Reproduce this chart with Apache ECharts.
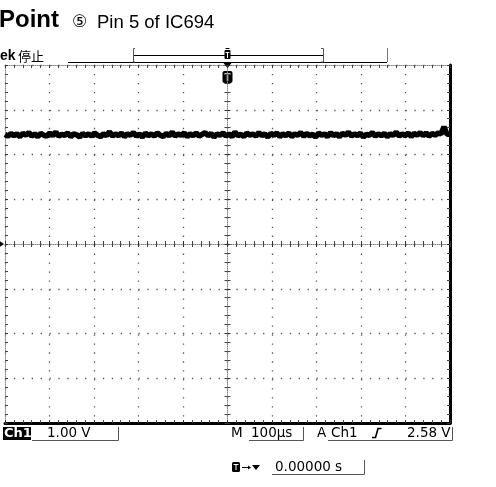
<!DOCTYPE html>
<html><head><meta charset="utf-8">
<script src="https://cdn.jsdelivr.net/npm/echarts@6/dist/echarts.min.js"></script>
<style>html,body{margin:0;padding:0;background:#fff;}#c{width:496px;height:487px;}</style>
</head><body><div id="c"></div>
<script>
// Time axis: -500 .. 500 µs (100 µs/div), voltage axis: -4 .. 4 V (1 V/div)
var timeRange = [-500, 500];
var voltRange = [-4, 4];
var timeDiv = 100;
var voltDiv = 1;
// Ch1 trace values (V): flat ~2.44 V with noise, small spike at the right end
var ch1Values = [
2.45,2.41,2.47,2.42,2.46,2.40,2.47,2.43,2.49,2.41,
2.46,2.40,2.47,2.43,2.41,2.48,2.42,2.50,2.41,2.45,
2.43,2.48,2.40,2.46,2.44,2.39,2.47,2.42,2.46,2.41,
2.48,2.43,2.40,2.46,2.42,2.51,2.41,2.46,2.42,2.48,
2.40,2.46,2.43,2.49,2.41,2.46,2.39,2.48,2.42,2.46,
2.41,2.48,2.43,2.40,2.47,2.42,2.50,2.41,2.46,2.43,
2.48,2.40,2.46,2.42,2.48,2.41,2.45,2.49,2.42,2.47,
2.39,2.46,2.43,2.48,2.41,2.46,2.40,2.50,2.42,2.45,
2.40,2.48,2.43,2.46,2.41,2.49,2.42,2.46,2.39,2.47,
2.43,2.48,2.40,2.46,2.42,2.48,2.40,2.46,2.43,2.49,
2.41,2.47,2.42,2.45,2.39,2.48,2.43,2.46,2.40,2.49,
2.42,2.46,2.40,2.47,2.43,2.50,2.41,2.46,2.42,2.48,
2.39,2.45,2.43,2.49,2.41,2.46,2.42,2.47,2.40,2.46,
2.43,2.50,2.41,2.46,2.42,2.48,2.40,2.47,2.43,2.49,
2.42,2.48,2.41,2.47,2.43,2.48,2.46,2.62,2.45,2.45
];
var groundLevel = 0;
var triggerTime = 0;
var titleBold = 'Point';
var titleMark = '⑤';
var titleRest = 'Pin 5 of IC694';
var statusLeft = 'ek';
var statusCJK = '停止';
var ch1Label = 'Ch1';
var voltsPerDiv = '1.00 V';
var timePerDiv = '100µs';
var trigSource = 'Ch1';
var trigLevel = '2.58 V';
var trigDelay = '0.00000 s';

var step = (timeRange[1] - timeRange[0]) / (ch1Values.length - 1);
var seriesData = ch1Values.map(function (v, i) { return [timeRange[0] + i * step, v]; });

var G = {left: 5, top: 65, width: 445, height: 358};
var chart = echarts.init(document.getElementById('c'), null, {renderer: 'canvas'});

function xAx(grid, pos, line, tick, split, onZero) {
  return {
    gridIndex: grid, type: 'value', min: timeRange[0], max: timeRange[1], interval: timeDiv,
    position: pos,
    axisLine: {show: !!line, onZero: !!onZero, lineStyle: line || {}},
    axisTick: tick ? {show: true, inside: tick.inside, length: 3, lineStyle: {color: '#333', width: 1}} : {show: false},
    minorTick: tick ? {show: true, splitNumber: 5, length: 3, lineStyle: {color: '#444', width: 1}} : {show: false},
    axisLabel: {show: false},
    splitLine: split ? {show: true, lineStyle: {color: '#555', width: 1.3, type: [1.3, 7.68]}} : {show: false}
  };
}
function yAx(grid, pos, line, tick, split, onZero) {
  return {
    gridIndex: grid, type: 'value', min: voltRange[0], max: voltRange[1], interval: voltDiv,
    position: pos,
    axisLine: {show: !!line, onZero: !!onZero, lineStyle: line || {}},
    axisTick: tick ? {show: true, inside: tick.inside, length: 3, lineStyle: {color: '#333', width: 1}} : {show: false},
    minorTick: tick ? {show: true, splitNumber: 5, length: 3, lineStyle: {color: '#444', width: 1}} : {show: false},
    axisLabel: {show: false},
    splitLine: split ? {show: true, lineStyle: {color: '#555', width: 1.3, type: [1.3, 7.6]}} : {show: false}
  };
}
var thick = {color: '#000', width: 3};
var dotted = {color: '#888', width: 1, type: [1, 1]};

var option = {
  animation: false,
  backgroundColor: '#fff',
  grid: [G, G, G].map(function (g) { return Object.assign({}, g); }),
  xAxis: [
    xAx(0, 'bottom', thick, {inside: true}, true, false),
    xAx(0, 'top', dotted, {inside: true}, false, false),
    xAx(1, 'bottom', dotted, {inside: true}, false, true),
    xAx(2, 'bottom', null, {inside: false}, false, true)
  ],
  yAxis: [
    yAx(0, 'left', dotted, {inside: true}, true, false),
    yAx(0, 'right', thick, {inside: true}, false, false),
    yAx(1, 'left', dotted, {inside: true}, false, true),
    yAx(2, 'left', null, {inside: false}, false, true)
  ],
  series: [{
    type: 'line', xAxisIndex: 0, yAxisIndex: 0, data: seriesData,
    showSymbol: false, symbol: 'none', clip: false,
    lineStyle: {color: '#000', width: 5.5, join: 'bevel'},
    markPoint: {
      silent: true,
      symbol: 'triangle', symbolSize: [8, 6], symbolRotate: -90, symbolOffset: [-4, 0],
      itemStyle: {color: '#000'}, label: {show: false},
      data: [{coord: [timeRange[0], groundLevel]}]
    }
  }]
};
chart.setOption(option);

var tx = chart.convertToPixel({xAxisIndex: 0}, triggerTime);
function line(pts, w, c) { return {type: 'polyline', shape: {points: pts}, style: {stroke: c || '#000', lineWidth: w || 1, fill: null}, silent: true}; }
// x, baseline y, text, font size, font spec
function txt(x, b, s, size, font, c) {
  return {type: 'text', x: x, y: b - 0.3 * size, style: {text: s, font: font.replace('%', size + 'px'), fill: c || '#000', verticalAlign: 'middle', align: 'left'}, silent: true};
}
function rect(x, y, w, h, c, r) { return {type: 'rect', shape: {x: x, y: y, width: w, height: h, r: r || 0}, style: {fill: c || '#000'}, silent: true}; }
function poly(pts, c) { return {type: 'polygon', shape: {points: pts}, style: {fill: c || '#000'}, silent: true}; }

var LS = '% "Liberation Sans", Arial, sans-serif';
var DV = '% "DejaVu Sans", sans-serif';
var els = [
  // title
  txt(-1, 28, titleBold, 24, 'bold ' + LS),
  txt(72, 28, titleMark, 17, DV),
  txt(97, 28, titleRest, 18.5, LS),
  // status
  txt(0, 60, statusLeft, 14, 'bold ' + LS),
  txt(18, 60, statusCJK, 13, '% "Noto Sans CJK SC", sans-serif'),
  // record bar
  line([[68, 62.5], [387, 62.5]], 1, '#000'),
  line([[133, 55.5], [323, 55.5]], 1.2, '#000'),
  line([[135, 48.5], [133.5, 48.5], [133.5, 62], [135, 62]], 1, '#555'),
  line([[321, 48.5], [323.5, 48.5], [323.5, 62], [321, 62]], 1, '#555'),
  line([[387.5, 48], [387.5, 62]], 1, '#777'),
  // small trigger position marker on bar
  rect(tx - 3, 50, 6, 9, '#000', 1),
  line([[tx - 2, 52.5], [tx + 2, 52.5]], 1, '#fff'),
  line([[tx, 52.5], [tx, 58]], 1, '#fff'),
  line([[tx - 2, 48.5], [tx + 2, 48.5]], 1, '#000'),
  poly([[tx - 4, 63], [tx + 4, 63], [tx, 68]], '#000'),
  // big trigger marker
  rect(tx - 5, 71, 10, 12, '#000', 2),
  line([[tx - 3, 74], [tx + 3, 74]], 1.5, '#fff'),
  line([[tx, 74], [tx, 81]], 1.5, '#fff'),
  // bottom readouts
  rect(3, 427, 28, 13, '#000'),
  txt(4, 438, ch1Label, 13, 'bold ' + DV, '#fff'),
  txt(47, 438, voltsPerDiv, 13.5, DV),
  line([[32, 440.5], [118.5, 440.5], [118.5, 427]], 1, '#555'),
  txt(231, 438, 'M', 13.5, DV),
  txt(251, 438, timePerDiv, 13.5, DV),
  line([[249, 440.5], [303.5, 440.5], [303.5, 427]], 1, '#555'),
  txt(317, 438, 'A', 13.5, DV),
  txt(331, 438, trigSource, 13.5, DV),
  line([[372, 437.5], [375.5, 437.5], [378, 428.5], [381.5, 428.5]], 1.6, '#000'),
  txt(407, 438, trigLevel, 13.5, DV),
  line([[328, 440.5], [452.5, 440.5], [452.5, 427]], 1, '#555'),
  // delay readout
  rect(232, 462, 8, 10, '#000', 1.5),
  line([[233.5, 464.5], [238.5, 464.5]], 1, '#fff'),
  line([[236, 464.5], [236, 470]], 1, '#fff'),
  line([[242, 467.5], [249, 467.5]], 1, '#000'),
  poly([[248, 465.5], [251, 467.5], [248, 469.5]], '#000'),
  poly([[252, 465], [260, 465], [256, 470]], '#000'),
  txt(275, 472, trigDelay, 13.5, DV),
  line([[272, 474.5], [364.5, 474.5], [364.5, 460]], 1, '#555')
];
chart.setOption({graphic: {elements: els}});
</script></body></html>
